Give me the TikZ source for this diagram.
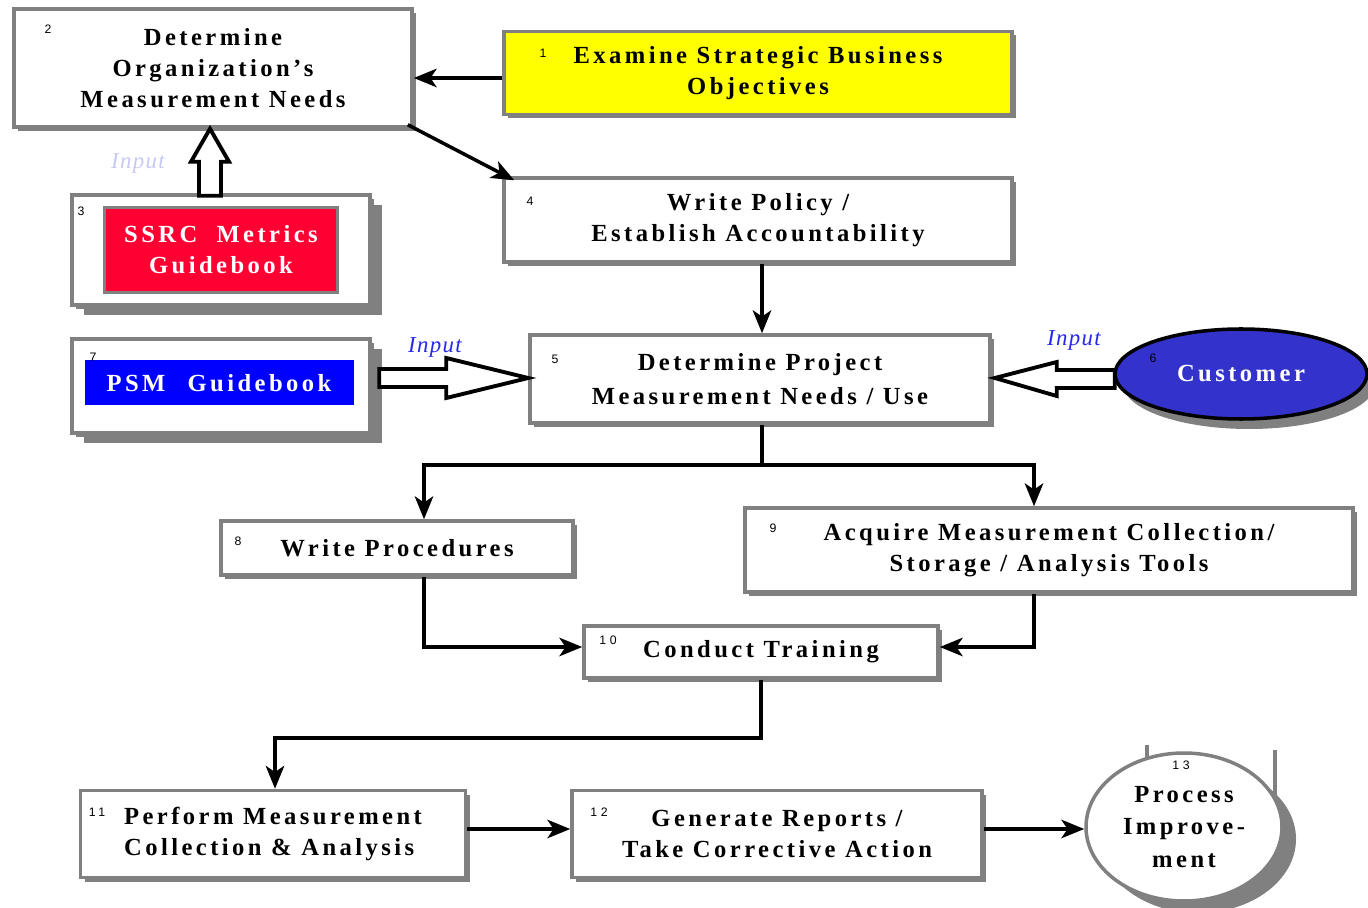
\documentclass[tikz,border=0pt]{standalone}
\usepackage{fontspec}
\setmainfont{Liberation Serif}
\newfontfamily\boxfont{Liberation Serif}[LetterSpace=14]
\newfontfamily\numfont{Liberation Sans}[LetterSpace=30]
\usetikzlibrary{arrows.meta, calc, shapes.geometric, shadows}

\definecolor{boxgray}{RGB}{128,128,128}
\definecolor{objyellow}{RGB}{255,255,0}
\definecolor{ssrcred}{RGB}{255,0,51}
\definecolor{psmblue}{RGB}{0,0,255}
\definecolor{custblue}{RGB}{51,51,204}
\definecolor{inputblue}{RGB}{40,40,235}
\definecolor{inputpale}{RGB}{200,200,245}

\tikzset{
  stepbox/.style={draw=boxgray, line width=2pt, fill=white, align=center, inner sep=0pt,
    font=\boxfont\bfseries\fontsize{14}{17.6}\selectfont,
    drop shadow={shadow xshift=0.08cm, shadow yshift=-0.08cm, fill=boxgray, opacity=1}},
  bookbox/.style={stepbox, drop shadow={shadow xshift=0.24cm, shadow yshift=-0.21cm, fill=boxgray, opacity=1}},
  booklabel/.style={align=center, inner sep=0pt, text=white,
    font=\boxfont\bfseries\fontsize{14}{17.6}\selectfont},
  numlabel/.style={inner sep=0pt, font=\numfont\fontsize{7}{8}\selectfont},
  inlabel/.style={inner sep=0pt, font=\addfontfeature{LetterSpace=6}\itshape\fontsize{13}{15}\selectfont},
  arr/.style={line width=2pt, -{Stealth[length=13pt, width=10.5pt, inset=3.5pt]}},
  hollow/.style={draw=black, line width=2.2pt, fill=white, line join=miter}
}

\begin{document}
\begin{tikzpicture}[x=0.02cm, y=-0.02cm]
  \def\pxl{0.02cm} % one pixel of the reference
  \useasboundingbox (0,0) rectangle (1368,908);

  % top row
  \node[stepbox, minimum width=398*\pxl, minimum height=118*\pxl] (b2) at (213,68)
    {Determine\\Organization’s\\Measurement Needs};
  \node[stepbox, fill=objyellow, minimum width=508*\pxl, minimum height=83*\pxl] (b1) at (758,73)
    {Examine Strategic Business\\Objectives};
  \node[stepbox, minimum width=508*\pxl, minimum height=84*\pxl] (b4) at (758,220)
    {Write Policy /\\Establish Accountability};

  % guidebooks
  \node[bookbox, minimum width=298*\pxl, minimum height=110*\pxl] (b3) at (221,250) {};
  \node[draw=boxgray, line width=2pt, fill=ssrcred, minimum width=233*\pxl, minimum height=85*\pxl,
    booklabel] (ssrc) at (221,250) {SSRC~~Metrics\\Guidebook};
  \node[bookbox, minimum width=298*\pxl, minimum height=94*\pxl] (b7) at (221,386) {};
  \node[fill=psmblue, minimum width=269*\pxl, minimum height=45*\pxl, booklabel] (psm) at (219,383)
    {PSM\hspace{0.9em}Guidebook};

  % project needs and customer
  \node[stepbox, minimum width=460*\pxl, minimum height=88*\pxl] (b5) at (760,379)
    {Determine Project\\[2pt]Measurement Needs / Use};
  \node[ellipse, draw=black, line width=2pt, fill=custblue, minimum width=252*\pxl, minimum height=90*\pxl,
    booklabel, drop shadow={shadow xshift=0.16cm, shadow yshift=-0.2cm, fill=boxgray, opacity=1}]
    (b6) at (1241,374) {Customer};

  % procedures, tools, training
  \node[stepbox, minimum width=352*\pxl, minimum height=54*\pxl] (b8) at (397,548) {Write Procedures};
  \node[stepbox, minimum width=608*\pxl, minimum height=84*\pxl] (b9) at (1049,550)
    {Acquire Measurement Collection/\\Storage / Analysis Tools};
  \node[stepbox, minimum width=354*\pxl, minimum height=52*\pxl] (b10) at (761,652) {Conduct Training};

  % bottom row
  \node[stepbox, align=left, minimum width=385*\pxl, minimum height=87*\pxl] (b11) at (273,834)
    {Perform Measurement\\Collection \& Analysis};
  \node[stepbox, minimum width=410*\pxl, minimum height=87*\pxl] (b12) at (777,834)
    {Generate Reports /\\Take Corrective Action};
  \draw[boxgray, line width=2pt] (1147,745) -- (1147,770) (1275,750) -- (1275,800);
  \node[ellipse, draw=boxgray, line width=2pt, fill=white, minimum width=196*\pxl, minimum height=148*\pxl,
    align=center, inner sep=0pt, font=\boxfont\bfseries\fontsize{14}{18.5}\selectfont,
    drop shadow={shadow xshift=0.28cm, shadow yshift=-0.24cm, fill=boxgray, opacity=1}]
    (e13) at (1184,827) {Process\\Improve-\\ment};

  % step numbers
  \node[numlabel] (n1) at (543,53) {1};
  \node[numlabel] (n2) at (48,29) {2};
  \node[numlabel] (n3) at (81,211) {3};
  \node[numlabel] (n4) at (530,201) {4};
  \node[numlabel] (n5) at (555,359) {5};
  \node[numlabel] (n6) at (1153,358) {6};
  \node[numlabel] (n7) at (93,357) {7};
  \node[numlabel] (n8) at (238,541) {8};
  \node[numlabel] (n9) at (773,528) {9};
  \node[numlabel] (n10) at (608,640) {10};
  \node[numlabel] (n11) at (97,812) {11};
  \node[numlabel] (n12) at (599,812) {12};
  \node[numlabel] (n13) at (1181,765) {13};

  % input labels
  \node[inlabel, text=inputpale] (in3) at (138,163) {Input};
  \node[inlabel, text=inputblue] (in7) at (435,347) {Input};
  \node[inlabel, text=inputblue] (in6) at (1074,340) {Input};

  % hollow input arrows
  \draw[hollow] ($(b2.south)+(-3,0)$) -- ++(19,33) -- ++(-8,0) -- ++(0,34) -- ++(-22,0)
    -- ++(0,-34) -- ++(-8,0) -- cycle;
  \draw[hollow] ($(b5.west)+(0,-1)$) -- ++(-82,-20) -- ++(0,11) -- ++(-67,0) -- ++(0,18)
    -- ++(67,0) -- ++(0,11) -- cycle;
  \draw[hollow] ($(b5.east)+(3,-1)$) -- ++(62,-16) -- ++(0,8) -- ++(58,0) -- ++(0,18)
    -- ++(-58,0) -- ++(0,8) -- cycle;

  % flow
  \coordinate (a1) at ($(b1.west)+(0,5)$);
  \draw[arr] (a1) -- (a1 -| b2.east);
  \draw[arr] ($(b2.south east)+(-6,-4)$) -- ($(b4.north west)+(12,4)$);
  \coordinate (a4) at ($(b4.south)+(4,0)$);
  \draw[arr] (a4) -- (a4 |- b5.north);
  \coordinate (j5) at ($(b5.south)+(2,40)$);
  \draw[line width=2pt] ($(b5.south)+(2,0)$) -- (j5);
  \draw[arr] (j5) -| ($(b8.north)+(27,0)$);
  \draw[arr] (j5) -| ($(b9.north)+(-15,0)$);
  \draw[arr] ($(b8.south)+(27,0)$) |- ($(b10.west)+(0,-5)$);
  \draw[arr] ($(b9.south)+(-15,0)$) |- ($(b10.east)+(0,-5)$);
  \coordinate (j10) at ($(b10.south)+(0,58)$);
  \draw[arr] (b10.south) -- (j10) -| ($(b11.north)+(2,0)$);
  \coordinate (a11) at ($(b11.east)+(0,-5)$);
  \draw[arr] (a11) -- (a11 -| b12.west);
  \coordinate (a12) at ($(b12.east)+(0,-5)$);
  \draw[arr] (a12) -- (a12 -| e13.west);
\end{tikzpicture}
\end{document}
